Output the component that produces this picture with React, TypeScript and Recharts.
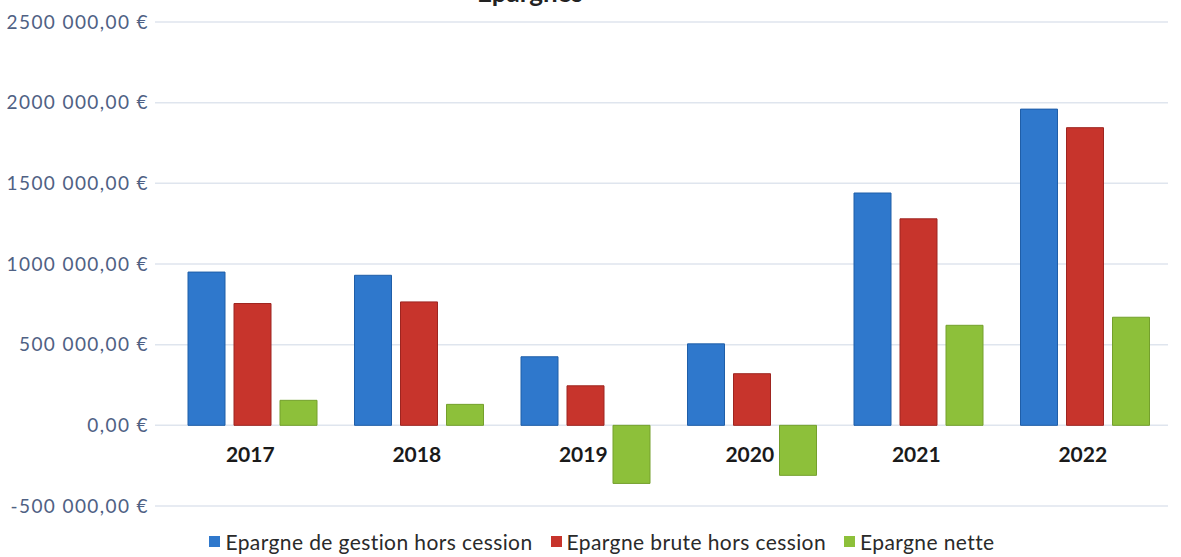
import { BarChart, Bar, XAxis, YAxis, CartesianGrid, Legend } from 'recharts'

const years = ['2017', '2018', '2019', '2020', '2021', '2022']
const gestion = [950000, 930000, 425000, 505000, 1440000, 1960000]
const brute = [755000, 765000, 245000, 320000, 1280000, 1845000]
const nette = [155000, 130000, -360000, -310000, 620000, 670000]
const yTicks = [-500000, 0, 500000, 1000000, 1500000, 2000000, 2500000]

const seriesNames = ['Epargne de gestion hors cession', 'Epargne brute hors cession', 'Epargne nette']
const seriesColors = ['#2f78cc', '#c7342c', '#8dc03a']

const data = years.map((year, i) => ({
  year,
  gestion: gestion[i],
  brute: brute[i],
  nette: nette[i],
}))

function euro(v: number) {
  const abs = Math.abs(v)
  const sign = v < 0 ? '-' : ''
  if (abs === 0) return '0,00 €'
  const high = Math.floor(abs / 1000)
  const low = String(abs % 1000).padStart(3, '0')
  return `${sign}${high} ${low},00 €`
}

function YearTick(props: any) {
  const { x, y, payload } = props
  return (
    <text
      x={x - 2}
      y={y - 57}
      textAnchor="middle"
      dominantBaseline="middle"
      fontSize={21}
      fontWeight={700}
      fill="#1a1a1a"
    >
      {payload.value}
    </text>
  )
}

// keep the legend in series order (recharts sorts it by name otherwise)
function LegendContent() {
  return (
    <div style={{ display: 'flex', justifyContent: 'center', gap: 18, fontSize: 21, letterSpacing: 0.4, color: '#2a2a2a', paddingTop: 1, marginLeft: 36 }}>
      {seriesNames.map((name, i) => (
        <span key={name} style={{ display: 'flex', alignItems: 'center' }}>
          <span style={{ width: 11, height: 11, background: seriesColors[i], marginRight: 5, display: 'inline-block' }} />
          {name}
        </span>
      ))}
    </div>
  )
}

export default function App() {
  return (
    <div style={{ position: 'absolute', left: 0, top: 0, width: 1181, height: 557, background: '#fff', fontFamily: 'Lato, sans-serif', overflow: 'hidden' }}>
      <div style={{ position: 'absolute', left: 440, top: -24, width: 180, textAlign: 'center', fontSize: 26, fontWeight: 700, color: '#222' }}>
        Epargnes
      </div>
      <BarChart
        width={1181}
        height={557}
        data={data}
        margin={{ top: 22, right: 13, left: 0, bottom: 3 }}
        barSize={37}
        barGap={9}
      >
        <CartesianGrid horizontal vertical={false} stroke="#dfe5ee" strokeWidth={1.5} />
        <XAxis
          dataKey="year"
          axisLine={false}
          tickLine={false}
          height={22}
          padding={{ left: 14, right: 0 }}
          tick={<YearTick />}
          interval={0}
        />
        <YAxis
          width={155}
          domain={[-500000, 2500000]}
          ticks={yTicks}
          tickFormatter={euro}
          axisLine={false}
          tickLine={false}
          tickMargin={0}
          tick={{ fontSize: 19, fill: '#4f6184', letterSpacing: 1.4 }}
        />
        <Legend verticalAlign="bottom" content={<LegendContent />} />
        <Bar dataKey="gestion" name={seriesNames[0]} fill={seriesColors[0]} stroke="#1f5ea8" isAnimationActive={false} />
        <Bar dataKey="brute" name={seriesNames[1]} fill={seriesColors[1]} stroke="#9e2520" isAnimationActive={false} />
        <Bar dataKey="nette" name={seriesNames[2]} fill={seriesColors[2]} stroke="#74a02c" isAnimationActive={false} />
      </BarChart>
    </div>
  )
}
